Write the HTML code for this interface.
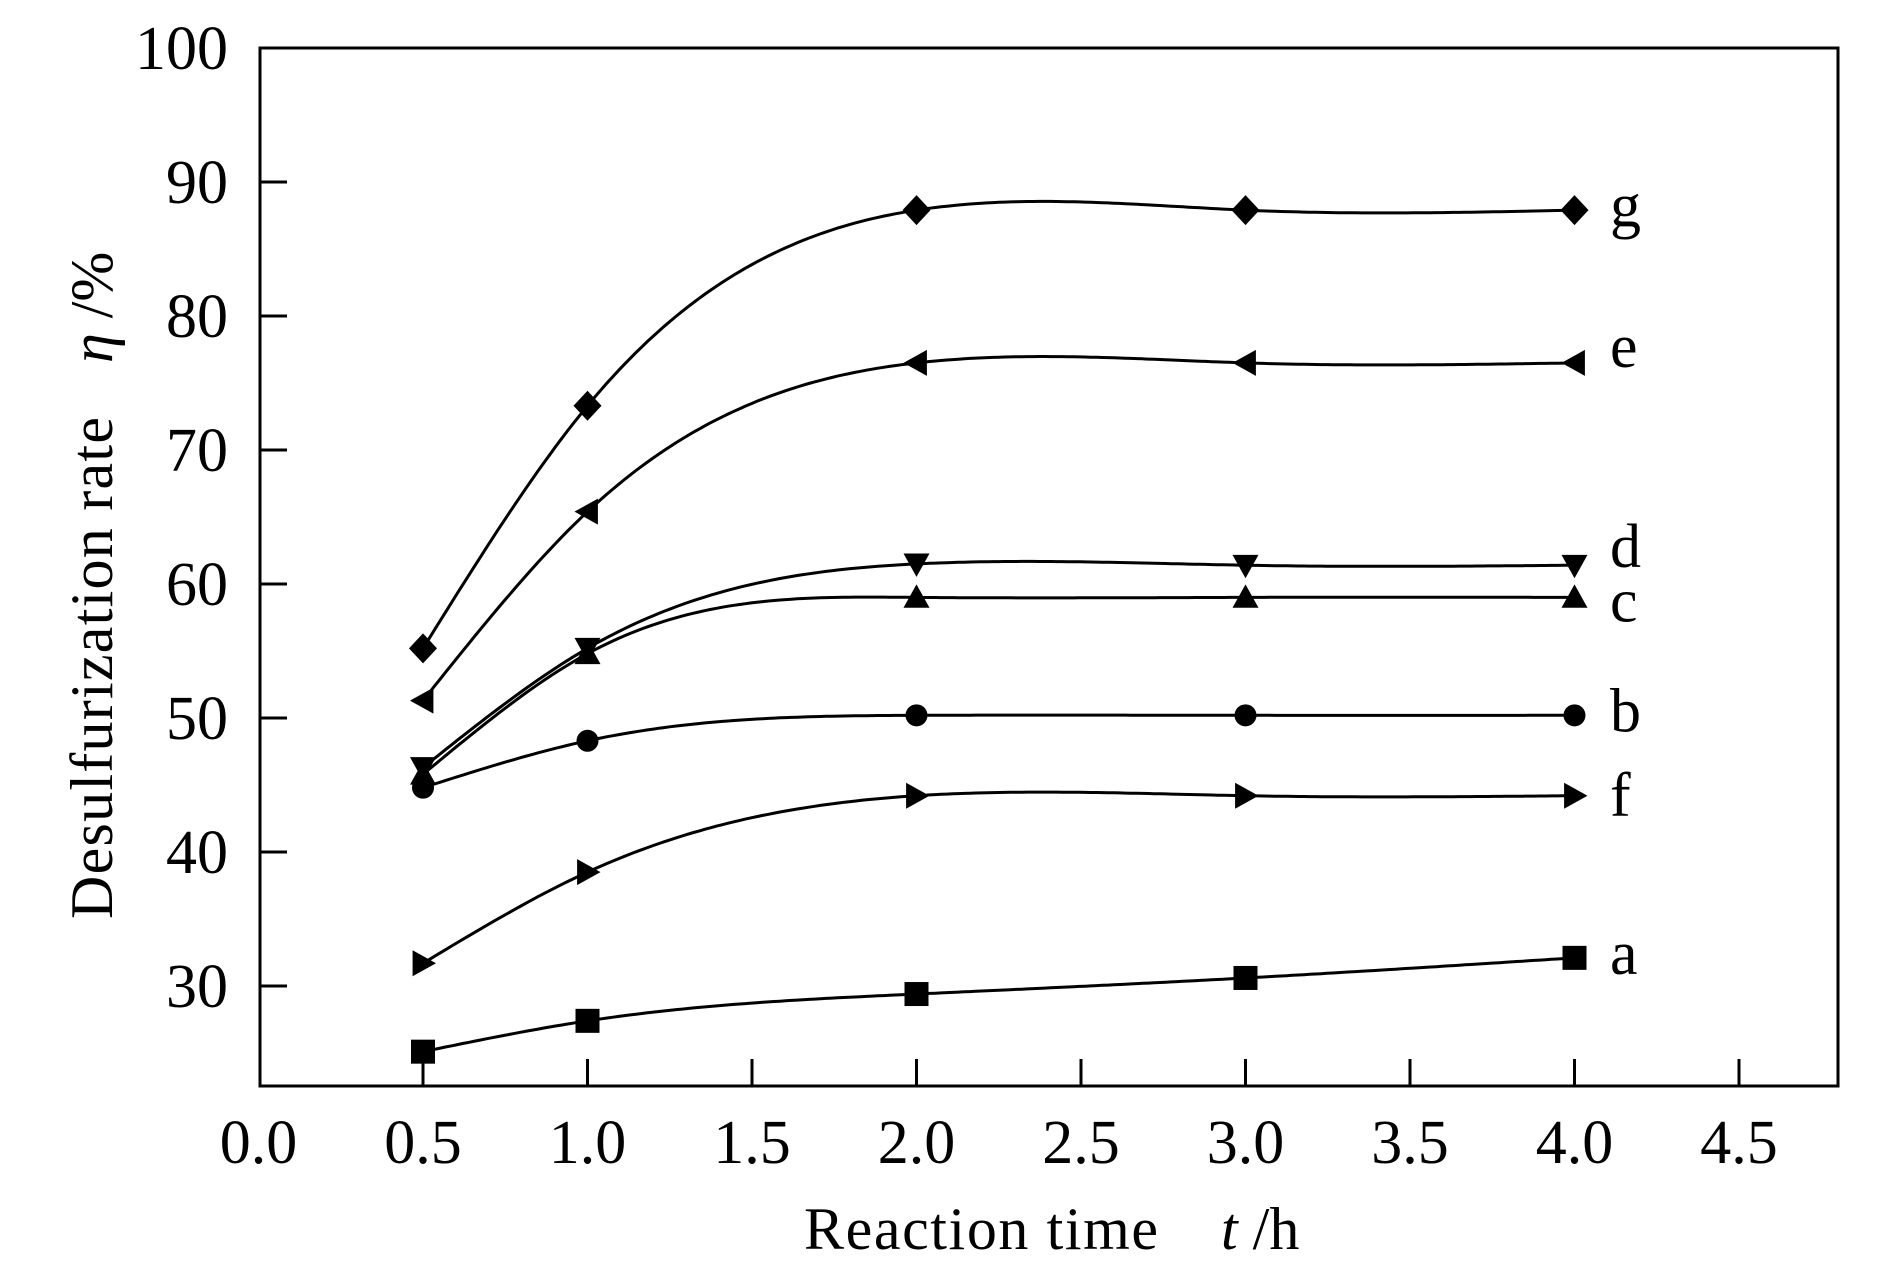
<!DOCTYPE html>
<html><head><meta charset="utf-8"><style>
html,body{margin:0;padding:0;background:#fff}
svg{display:block}
text{font-family:"Liberation Serif",serif;fill:#000}
</style></head><body>
<svg id="chart" width="1890" height="1276" viewBox="0 0 1890 1276" xmlns="http://www.w3.org/2000/svg">
<rect x="260" y="48" width="1578" height="1038" fill="none" stroke="#000" stroke-width="3"/>
<g id="ticks"></g><g id="series"></g>
<text x="804" y="1249" font-size="60" textLength="354">Reaction time</text>
<text x="1221" y="1249" font-size="60"><tspan font-style="italic">t</tspan> /h</text>
<g transform="translate(112,919) rotate(-90)">
<text x="0" y="0" font-size="60" textLength="502">Desulfurization rate</text>
<text x="556" y="0" font-size="60"><tspan font-style="italic">η</tspan> /%</text>
</g>
</svg>
<script>
const xs=[0.5,1.0,2.0,3.0,4.0];
const seriesNames=['g','e','d','c','b','f','a'];
const gVals=[55.2,73.3,87.9,87.9,87.9];
const eVals=[51.3,65.4,76.5,76.5,76.5];
const dVals=[46.3,55.2,61.5,61.4,61.4];
const cVals=[45.8,54.8,59.0,59.0,59.0];
const bVals=[44.8,48.3,50.2,50.2,50.2];
const fVals=[31.7,38.5,44.2,44.2,44.2];
const aVals=[25.1,27.4,29.4,30.6,32.1];
const xTicks=['0.0','0.5','1.0','1.5','2.0','2.5','3.0','3.5','4.0','4.5'];
const yTicks=['30','40','50','60','70','80','90','100'];

const NS='http://www.w3.org/2000/svg';
const X=v=>423+(v-0.5)*329;
const Y=v=>48+(100-v)*13.4;
function mk(t,a,p){const e=document.createElementNS(NS,t);for(const k in a)e.setAttribute(k,a[k]);p.appendChild(e);return e;}
const tg=document.getElementById('ticks');
xTicks.forEach(t=>{const v=parseFloat(t);
 if(v>0){const l=mk('line',{x1:X(v),x2:X(v),y1:1086,y2:1059,stroke:'#000','stroke-width':3},tg);
 
 }
 const tx=mk('text',{x:X(v),y:1163,'font-size':62,'text-anchor':'middle'},tg);tx.textContent=t;
 
 
});
yTicks.forEach(t=>{const v=parseFloat(t);
 if(v<100){const l=mk('line',{x1:260,x2:287,y1:Y(v),y2:Y(v),stroke:'#000','stroke-width':3},tg);
 
 }
 const tx=mk('text',{x:228,y:Y(v)+21,'font-size':62,'text-anchor':'end'},tg);tx.textContent=t;
 
 
});
const sg=document.getElementById('series');
const vals={g:gVals,e:eVals,d:dVals,c:cVals,b:bVals,f:fVals,a:aVals};
const shape={g:'diamond',e:'left',d:'down',c:'up',b:'circle',f:'right',a:'square'};
const labelDy={g:0,e:-12,d:-14,c:8,b:0,f:4,a:0};
// natural cubic spline in data space
function natSpline(x,y){const n=x.length,h=[],al=[0],l=[1],mu=[0],z=[0],c=new Array(n).fill(0),b=[],d=[];
 for(let i=0;i<n-1;i++)h.push(x[i+1]-x[i]);
 for(let i=1;i<n-1;i++)al.push(3/h[i]*(y[i+1]-y[i])-3/h[i-1]*(y[i]-y[i-1]));
 for(let i=1;i<n-1;i++){l[i]=2*(x[i+1]-x[i-1])-h[i-1]*mu[i-1];mu[i]=h[i]/l[i];z[i]=(al[i]-h[i-1]*z[i-1])/l[i];}
 for(let j=n-2;j>=0;j--){c[j]=(j>0?z[j]:0)-mu[j]*c[j+1];b[j]=(y[j+1]-y[j])/h[j]-h[j]*(c[j+1]+2*c[j])/3;d[j]=(c[j+1]-c[j])/(3*h[j]);}
 return t=>{let i=0;while(i<n-2&&t>x[i+1])i++;const dx=t-x[i];return y[i]+b[i]*dx+c[i]*dx*dx+d[i]*dx*dx*dx;};}
function marker(s,x,y,g){const r=13;let e;
 if(s==='square')e=mk('rect',{x:x-12,y:y-12,width:24,height:24},g);
 else if(s==='circle')e=mk('circle',{cx:x,cy:y,r:11},g);
 else{let pts;
  if(s==='diamond')pts=[[x,y-15],[x+14,y],[x,y+15],[x-14,y]];
  if(s==='up')pts=[[x,y-r],[x+r,y+r*0.8],[x-r,y+r*0.8]];
  if(s==='down')pts=[[x,y+r],[x+r,y-r*0.8],[x-r,y-r*0.8]];
  if(s==='left')pts=[[x-r,y],[x+r*0.8,y-r],[x+r*0.8,y+r]];
  if(s==='right')pts=[[x+r,y],[x-r*0.8,y-r],[x-r*0.8,y+r]];
  e=mk('polygon',{points:pts.map(p=>p.join(',')).join(' ')},g);}
 e.setAttribute('fill','#000');return e;}
seriesNames.forEach(n=>{const g=mk('g',{},sg);
 
 
 const f=natSpline(xs,vals[n]);
 const pp=[];const x0=xs[0],x1=xs[xs.length-1];
 for(let k=0;k<=200;k++){const t=x0+(x1-x0)*k/200;pp.push(X(t).toFixed(1)+','+Y(f(t)).toFixed(1));}
 const p=mk('polyline',{points:pp.join(' '),fill:'none',stroke:'#000','stroke-width':3},g);
 
 
 const pts=xs.map((x,i)=>[X(x),Y(vals[n][i])]);
 pts.forEach(q=>{const m=marker(shape[n],q[0],q[1],g);
  
  });
 const last=pts[pts.length-1];
 const t=mk('text',{x:1610,y:last[1]+16+labelDy[n],'font-size':62},g);t.textContent=n;
 
 
});
</script>
</body></html>
